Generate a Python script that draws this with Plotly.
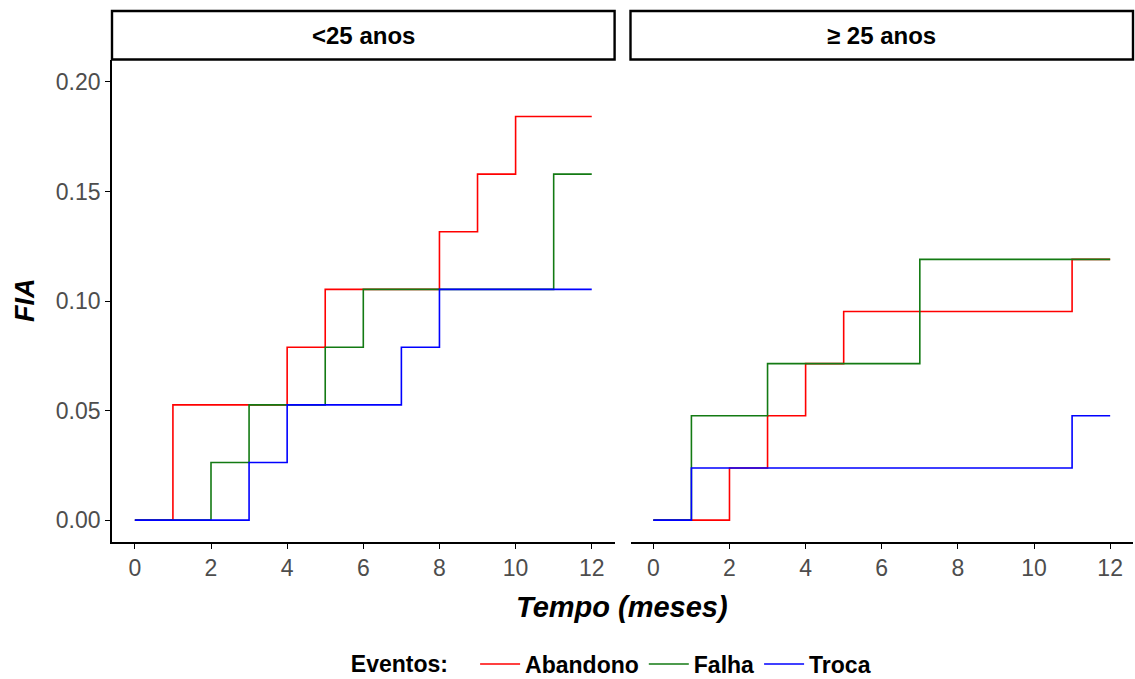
import plotly.graph_objects as go
from plotly.subplots import make_subplots

# Cumulative incidence (FIA) by event type, months 0-12
grupos = ["<25 anos", "≥ 25 anos"]
eventos = ["Abandono", "Falha", "Troca"]
cores = {"Abandono": "#FF0000", "Falha": "#137A13", "Troca": "#0000FF"}

# <25 anos
jov_abandono_t = [0, 1, 4, 5, 8, 9, 10, 12]
jov_abandono_fia = [0, 0.0526, 0.0789, 0.1053, 0.1316, 0.1579, 0.1842, 0.1842]
jov_falha_t = [0, 2, 3, 5, 6, 11, 12]
jov_falha_fia = [0, 0.0263, 0.0526, 0.0789, 0.1053, 0.1579, 0.1579]
jov_troca_t = [0, 3, 4, 7, 8, 12]
jov_troca_fia = [0, 0.0263, 0.0526, 0.0789, 0.1053, 0.1053]

# >= 25 anos
adu_abandono_t = [0, 2, 3, 4, 5, 11, 12]
adu_abandono_fia = [0, 0.0238, 0.0476, 0.0714, 0.0952, 0.1190, 0.1190]
adu_falha_t = [0, 1, 3, 7, 12]
adu_falha_fia = [0, 0.0476, 0.0714, 0.1190, 0.1190]
adu_troca_t = [0, 1, 11, 12]
adu_troca_fia = [0, 0.0238, 0.0476, 0.0476]

x_ticks = [0, 2, 4, 6, 8, 10, 12]
y_ticks = [0.00, 0.05, 0.10, 0.15, 0.20]
y_tick_text = ["0.00", "0.05", "0.10", "0.15", "0.20"]

dados = {
    "<25 anos": {
        "Abandono": (jov_abandono_t, jov_abandono_fia),
        "Falha": (jov_falha_t, jov_falha_fia),
        "Troca": (jov_troca_t, jov_troca_fia),
    },
    "≥ 25 anos": {
        "Abandono": (adu_abandono_t, adu_abandono_fia),
        "Falha": (adu_falha_t, adu_falha_fia),
        "Troca": (adu_troca_t, adu_troca_fia),
    },
}

W, H = 1135, 679
ML, MR, MT, MB = 112, 2, 60, 137
PW = W - ML - MR
PH = H - MT - MB
FONT = "Liberation Sans, Arial, sans-serif"

fig = make_subplots(rows=1, cols=2, shared_yaxes=True, horizontal_spacing=0.015)

for col, grupo in enumerate(grupos, start=1):
    for ev in eventos:
        t, v = dados[grupo][ev]
        fig.add_trace(
            go.Scatter(
                x=t, y=v, mode="lines", name="<b>%s</b>" % ev,
                line=dict(shape="hv", color=cores[ev], width=1.6),
                legendgroup=ev, showlegend=(col == 1),
            ),
            row=1, col=col,
        )

dom1 = [0, (614.6 - ML) / PW]
dom2 = [(630.5 - ML) / PW, 1]

axis_common = dict(
    showgrid=False, zeroline=False, showline=True, linecolor="black", linewidth=1.6,
    ticks="outside", ticklen=5, tickwidth=1.3, tickcolor="black",
    tickfont=dict(family=FONT, size=23, color="#4D4D4D"),
    automargin=False,
)
fig.update_xaxes(range=[-0.6, 12.6], tickvals=x_ticks, **axis_common)
fig.update_layout(xaxis=dict(domain=dom1), xaxis2=dict(domain=dom2))
fig.update_yaxes(range=[-0.01, 0.21], tickvals=y_ticks, ticktext=y_tick_text, **axis_common)
fig.update_yaxes(showline=False, ticks="", showticklabels=False, row=1, col=2)


def py(px):
    """Pixel row (from top of the page) to paper y."""
    return 1 - (px - MT) / PH


def px_(pxx):
    """Pixel column to paper x."""
    return (pxx - ML) / PW


# facet strips
for dom, grupo in zip([dom1, dom2], grupos):
    fig.add_shape(type="rect", xref="paper", yref="paper",
                  x0=dom[0], x1=dom[1], y0=py(59.5), y1=py(11),
                  line=dict(color="black", width=2.4), fillcolor="white", layer="above")
    fig.add_annotation(x=(dom[0] + dom[1]) / 2, y=py(36),
                       xref="paper", yref="paper", xanchor="center", yanchor="middle",
                       text="<b>%s</b>" % grupo.replace("<", "&lt;"),
                       showarrow=False, font=dict(family=FONT, size=24, color="black"))

# axis titles
fig.add_annotation(x=px_(622), y=py(607), xref="paper", yref="paper",
                   xanchor="center", yanchor="middle",
                   text="<b><i>Tempo (meses)</i></b>", showarrow=False,
                   font=dict(family=FONT, size=29, color="black"))
fig.add_annotation(x=px_(25), y=py(300), xref="paper", yref="paper",
                   xanchor="center", yanchor="middle",
                   text="<b><i>FIA</i></b>", textangle=-90, showarrow=False,
                   font=dict(family=FONT, size=27, color="black"))

fig.update_layout(
    width=W, height=H,
    margin=dict(l=ML, r=MR, t=MT, b=MB, autoexpand=False),
    plot_bgcolor="white", paper_bgcolor="white",
    legend=dict(
        orientation="h", x=0.49, xanchor="center",
        yref="container", y=1 - 664 / H, yanchor="middle",
        title=dict(text="<b>Eventos:</b>   ", side="left",
                   font=dict(family=FONT, size=23, color="black")),
        font=dict(family=FONT, size=23, color="black"),
        itemwidth=40,
        tracegroupgap=0,
    ),
)

fig.write_html("out.html")
